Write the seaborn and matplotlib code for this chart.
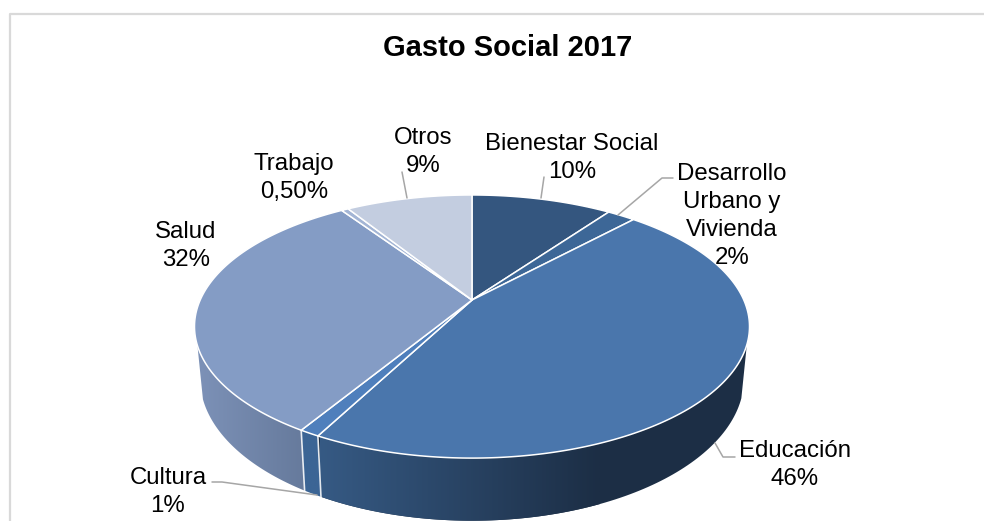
import numpy as np
import seaborn as sns
import matplotlib.pyplot as plt
from matplotlib.patches import Polygon

# Datos
categorias = ["Bienestar Social", "Desarrollo\nUrbano y\nVivienda", "Educación", "Cultura", "Salud", "Trabajo", "Otros"]
valores = [10, 2, 46, 1, 32, 0.5, 9]
etiquetas_valor = ["10%", "2%", "46%", "1%", "32%", "0,50%", "9%"]
colores = ["#34567f", "#3d6797", "#4a76ac", "#4f7fbc", "#849cc5", "#a3b5d5", "#c3cde0"]

sns.set_theme(style="white")
plt.rcParams['font.family'] = ['Liberation Sans', 'DejaVu Sans']

# geometria del pie en perspectiva (pixeles de la imagen)
cx, cy = 472, 300
A, B, k = 126.2, 271.8, 0.2017
depth = 50


def top_rim(theta):
    x, y = np.sin(theta), np.cos(theta)
    w = 1 + k * y
    return cx + B * x / w, cy - A * y / w


def bottom_rim(theta):
    x, y = np.sin(theta), np.cos(theta)
    w = 1 + k * y
    return cx + 0.98 * B * x / w, cy + (depth - A * y) / w


fig, ax = plt.subplots(figsize=(9.84, 5.21), dpi=100)
fig.subplots_adjust(0, 0, 1, 1)

# marco del grafico
ax.plot([10, 10, 984], [521, 13.5, 13.5], color="#d9d9d9", lw=1.6, zorder=1)

bordes = np.radians(np.cumsum([0] + valores) / sum(valores) * 360)

# laterales con degradado: (sector, color izquierda, color derecha, x inicio, x fin)
laterales = [
    (2, "#365a84", "#1c2e45", 320, 600),
    (3, "#3c6595", "#3c6595", 300, 325),
    (4, "#7d92b8", "#667a9c", 195, 305),
]
for i, c0, c1, x_ini, x_fin in laterales:
    t = np.linspace(bordes[i], bordes[i + 1], 160)
    t = t[np.cos(t) < -0.33]
    xt, yt = top_rim(t)
    xb, yb = bottom_rim(t)
    vertices = np.c_[np.r_[xt, xb[::-1]], np.r_[yt, yb[::-1]]]
    pol = Polygon(vertices, transform=ax.transData, fc="none", ec="none")
    ax.add_patch(pol)
    cmap = sns.blend_palette([c0, c1], as_cmap=True)
    im = ax.imshow(np.linspace(0, 1, 256).reshape(1, -1), cmap=cmap, aspect="auto",
                   extent=[x_ini, x_fin, 521, 300], zorder=2)
    im.set_clip_path(pol)
    # el degradado no llega a todo el lateral: tramo liso a la derecha
    if i == 2:
        ax.add_patch(Polygon(vertices, transform=ax.transData, fc=c1, ec="none", zorder=1.5))

# separadores del lateral
for b in bordes[3:5]:
    x0, y0 = top_rim(b)
    x1, y1 = bottom_rim(b)
    ax.plot([x0, x1], [y0, y1], color="white", lw=1.2, alpha=0.85, zorder=3)

# cara superior
for i, color in enumerate(colores):
    t = np.linspace(bordes[i], bordes[i + 1], max(4, int(valores[i] * 6) + 2))
    xs, ys = top_rim(t)
    ax.fill(np.r_[cx, xs], np.r_[cy, ys], facecolor=color, edgecolor="white", lw=1.1, joinstyle="round", zorder=4)

# lineas guia
guias = [
    ([541, 544], [198, 177]),
    ([618, 662, 673], [215, 178, 178]),
    ([715, 723, 735], [443, 457, 457]),
    ([212, 222, 317], [482, 482, 495]),
    ([402, 407], [172, 198]),
]
for gx, gy in guias:
    ax.plot(gx, gy, color="#a6a6a6", lw=1.1, zorder=5)

# textos
textos = [
    (572, 158, 0),
    (732, 216, 1),
    (795, 465, 2),
    (168, 492, 3),
    (186, 246, 4),
    (294, 178, 5),
    (423, 152, 6),
]
for px, py, i in textos:
    ax.text(px, py, categorias[i] + "\n" + etiquetas_valor[i], ha="center", va="center",
            fontsize=17.3, color="black", linespacing=1.37, zorder=6)

ax.text(508, 48, "Gasto Social 2017", ha="center", va="center", fontsize=21, fontweight="bold", color="black")

ax.set_xlim(0, 984)
ax.set_ylim(521, 0)
ax.axis("off")

plt.savefig("out.png", dpi=100)
